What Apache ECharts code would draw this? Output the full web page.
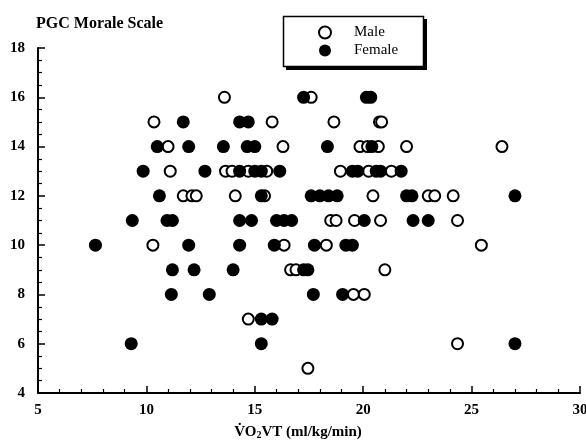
<!DOCTYPE html>
<html>
<head>
<meta charset="utf-8">
<script src="https://cdn.jsdelivr.net/npm/echarts@6/dist/echarts.min.js"></script>
<style>html,body{margin:0;padding:0;background:#fff}#c{width:586px;height:443px}</style>
</head>
<body>
<div id="c"></div>
<script>
// Male (open circles): [VO2VT, PGC]
const maleData = [
  [13.6,16],[17.6,16],
  [10.35,15],[15.8,15],[18.65,15],[20.75,15],[20.85,15],
  [11.0,14],[16.3,14],[19.85,14],[20.2,14],[20.7,14],[22.0,14],[26.4,14],
  [11.1,13],[13.65,13],[13.95,13],[14.7,13],[15.55,13],[18.95,13],[20.25,13],[21.3,13],
  [11.7,12],[12.1,12],[12.3,12],[14.1,12],[15.45,12],[20.45,12],[23.0,12],[23.3,12],[24.15,12],
  [18.5,11],[18.75,11],[19.6,11],[20.8,11],[24.35,11],
  [10.3,10],[16.35,10],[18.3,10],[25.45,10],
  [16.65,9],[16.9,9],[21.0,9],
  [19.55,8],[20.05,8],
  [14.7,7],
  [24.35,6],
  [17.45,5]
];
// Female (filled circles)
const femaleData = [
  [17.25,16],[20.15,16],[20.35,16],
  [11.7,15],[14.3,15],[14.7,15],
  [10.5,14],[11.95,14],[13.55,14],[14.65,14],[15.0,14],[18.35,14],[20.4,14],
  [9.85,13],[12.7,13],[14.3,13],[15.0,13],[15.3,13],[16.15,13],[19.5,13],[19.75,13],[20.6,13],[20.8,13],[21.75,13],
  [10.6,12],[15.3,12],[17.6,12],[18.0,12],[18.4,12],[18.8,12],[22.0,12],[22.25,12],[27.0,12],
  [9.35,11],[10.95,11],[11.2,11],[14.3,11],[14.85,11],[16.0,11],[16.35,11],[16.7,11],[20.05,11],[22.3,11],[23.0,11],
  [7.65,10],[11.95,10],[14.3,10],[15.9,10],[17.75,10],[19.2,10],[19.5,10],
  [11.2,9],[12.2,9],[14.0,9],[17.25,9],[17.45,9],
  [11.15,8],[12.9,8],[17.7,8],[19.05,8],
  [15.3,7],[15.8,7],
  [9.3,6],[15.3,6],[27.0,6]
];
const seriesNames = ['Male', 'Female'];
const titleText = 'PGC Morale Scale';

const FONT = '"Liberation Serif", "DejaVu Serif", serif';
const chart = echarts.init(document.getElementById('c'), null, {renderer: 'canvas'});
chart.setOption({
  backgroundColor: '#fff',
  animation: false,
  title: {
    text: titleText, left: 31, top: 11,
    textStyle: {fontFamily: FONT, fontWeight: 'bold', fontSize: 16, color: '#000'}
  },
  graphic: [
    {type: 'rect', z: 0, silent: true, shape: {x: 286, y: 19, width: 141, height: 51}, style: {fill: '#000'}},
    {type: 'rect', z: 1, silent: true, shape: {x: 283.5, y: 16.5, width: 140, height: 50}, style: {fill: '#fff', stroke: '#000', lineWidth: 1.5}}
  ],
  legend: {
    orient: 'vertical', left: 318, top: 25, z: 10,
    padding: 0,
    itemWidth: 12, itemHeight: 12, itemGap: 3,
    textStyle: {fontFamily: FONT, fontSize: 15, color: '#000', lineHeight: 12, padding: [0,0,0,18]},
    data: seriesNames
  },
  grid: {left: 38, right: 6, top: 48, bottom: 50, containLabel: false, outerBoundsMode: 'none'},
  xAxis: {
    type: 'value', min: 5, max: 30, interval: 5,
    axisLine: {show: true, onZero: false, lineStyle: {color: '#000', width: 2}},
    axisTick: {show: true, inside: true, length: 7, lineStyle: {color: '#000', width: 1.5}},
    minorTick: {show: true, splitNumber: 5, length: 4, lineStyle: {color: '#000', width: 1.2}},
    splitLine: {show: false},
    axisLabel: {margin: 10, fontFamily: FONT, fontWeight: 'bold', fontSize: 15, color: '#000'},
    name: 'V\u0307O{s|2}VT (ml/kg/min)',
    nameLocation: 'middle', nameGap: 31,
    nameTextStyle: {
      fontFamily: FONT, fontWeight: 'bold', fontSize: 15, color: '#000', padding: [0, 22, 0, 0],
      rich: {s: {fontFamily: FONT, fontWeight: 'bold', fontSize: 10, color: '#000', verticalAlign: 'bottom', padding: [6,0,0,0]}}
    }
  },
  yAxis: {
    type: 'value', min: 4, max: 18, interval: 2,
    axisLine: {show: true, onZero: false, lineStyle: {color: '#000', width: 2}},
    axisTick: {show: true, inside: true, length: 7, lineStyle: {color: '#000', width: 1.5}},
    minorTick: {show: true, splitNumber: 4, length: 4, lineStyle: {color: '#000', width: 1.2}},
    splitLine: {show: false},
    axisLabel: {margin: 13, fontFamily: FONT, fontWeight: 'bold', fontSize: 15, color: '#000'}
  },
  series: [
    {
      name: seriesNames[0], type: 'scatter', data: maleData, symbol: 'circle', symbolSize: 11,
      itemStyle: {color: '#fff', borderColor: '#000', borderWidth: 2, opacity: 1}
    },
    {
      name: seriesNames[1], type: 'scatter', data: femaleData, symbol: 'circle', symbolSize: 13,
      itemStyle: {color: '#000', opacity: 1}
    }
  ]
});
</script>
</body>
</html>
